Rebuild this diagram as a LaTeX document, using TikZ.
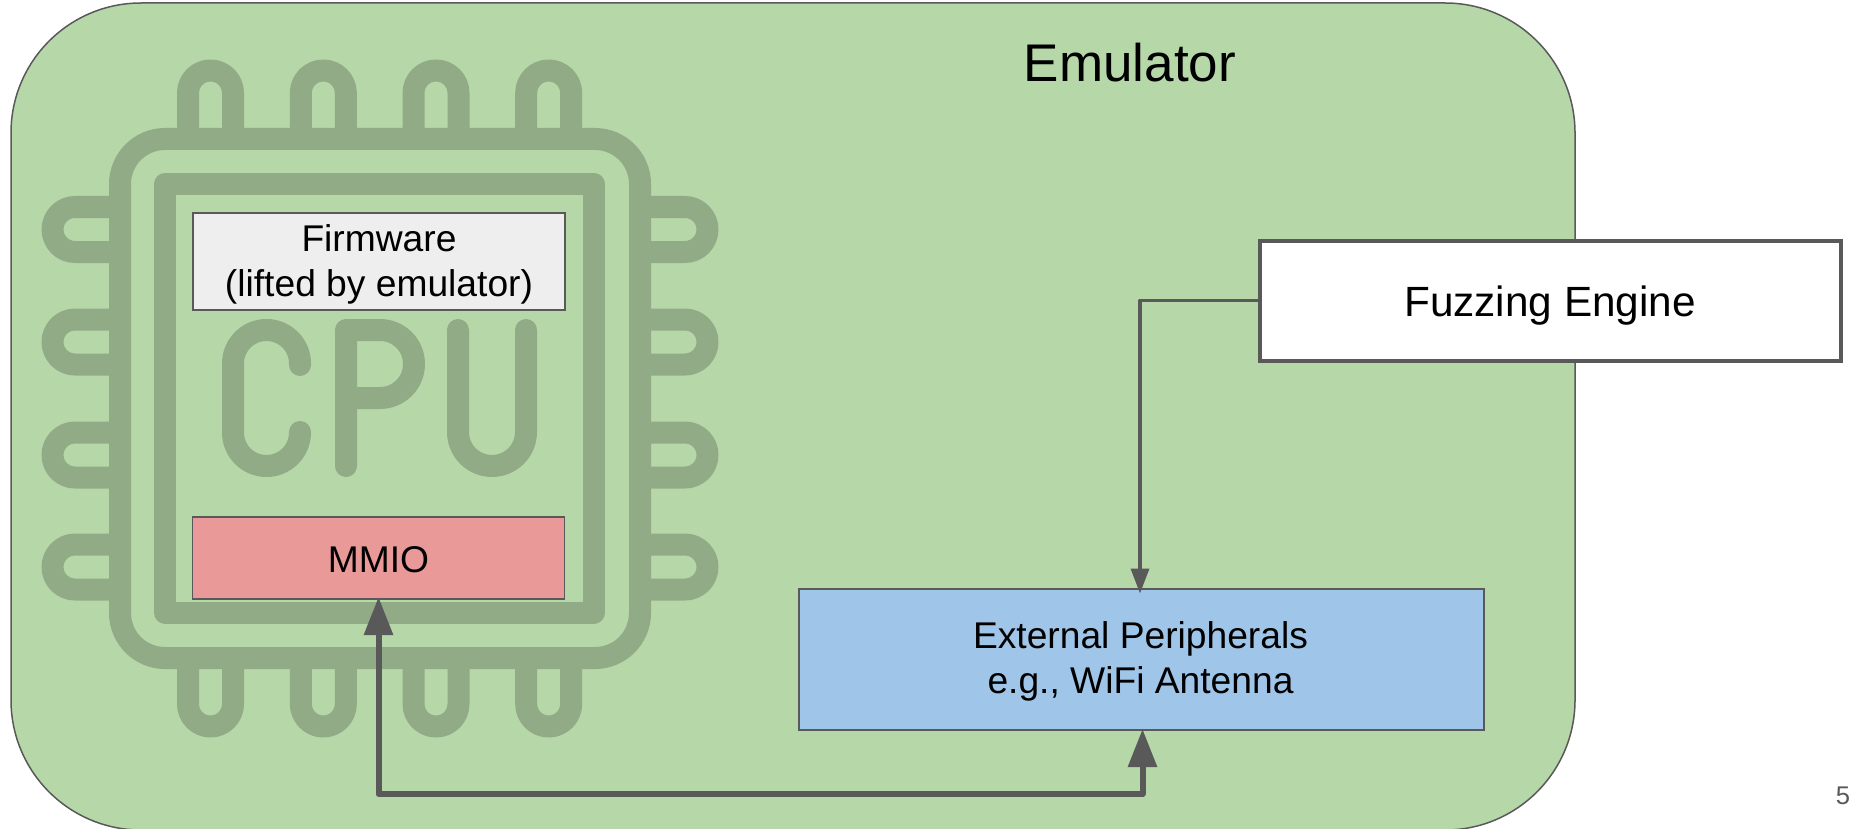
\documentclass[tikz,border=0pt]{standalone}
\usepackage{fontspec}
\setmainfont{Liberation Sans}
\usetikzlibrary{arrows.meta,calc}
\definecolor{linegray}{HTML}{595959}
\definecolor{emugreen}{HTML}{B6D7A8}
\definecolor{chipgreen}{HTML}{91AB86}
\definecolor{fwgray}{HTML}{EEEEEE}
\definecolor{mmiored}{HTML}{EA9999}
\definecolor{periblue}{HTML}{9FC5E8}
\tikzset{
  chipline/.style={draw=chipgreen,line width=22pt,line join=round,line cap=butt},
  chipround/.style={chipline,line cap=round},
  boxbase/.style={draw=linegray,line width=1.5pt,inner sep=0pt,outer sep=0pt,align=center,text=black},
  txtmid/.style={font=\fontsize{37.2}{44.4}\selectfont},
  thinarrow/.style={draw=linegray,line width=3.5pt,line join=round,-{Triangle[length=25pt,width=18pt]}},
  thickarrow/.style={draw=linegray,line width=6pt,line join=round,{Triangle[length=38pt,width=28pt]}-{Triangle[length=38pt,width=28pt]}}
}
\begin{document}
\begin{tikzpicture}[x=1pt,y=-1pt]
\useasboundingbox (0,0) rectangle (1854,829);
\node[draw=linegray,line width=1.5pt,fill=emugreen,rounded corners=130pt,minimum width=1564pt,minimum height=827pt,inner sep=0pt,outer sep=0pt] (emulator) at (793,416.5) {};
% chip package
\draw[chipline,rounded corners=45pt] (120,139) rectangle (640,658);
\draw[chipline] (165,184) rectangle (594,612.5);
% pins
\foreach \c in {210.5,323.3,436,548.7}{
  \draw[chipline] (\c-22.5,130) -- (\c-22.5,93) arc (180:360:22.5) -- (\c+22.5,130);
  \draw[chipline] (\c-22.5,667) -- (\c-22.5,704) arc (180:0:22.5) -- (\c+22.5,667);
}
\foreach \r in {229.5,342,455,567}{
  \draw[chipline] (111,\r-22.5) -- (75,\r-22.5) arc (270:90:22.5) -- (111,\r+22.5);
  \draw[chipline] (649,\r-22.5) -- (685,\r-22.5) arc (-90:90:22.5) -- (649,\r+22.5);
}
% CPU letters
\draw[chipround] (300,365) -- (300,363.5) arc (360:180:33.5) -- (233,432.5) arc (180:0:33.5) -- (300,432);
\draw[chipround] (346,466) -- (346,330) -- (380,330) arc (-90:90:34) -- (346,398);
\draw[chipround] (458,330) -- (458,432) arc (180:0:34) -- (526,330);
% boxes
\node[boxbase,fill=fwgray,minimum width=372pt,minimum height=97pt] (firmware) at (379,261.5) {};
\node[txtmid,align=center,inner sep=0pt,yshift=-3pt] (firmwaretext) at (firmware.center) {Firmware\\(lifted by emulator)};
\node[boxbase,fill=mmiored,minimum width=372pt,minimum height=82pt] (mmio) at (378.5,558) {};
\node[txtmid,inner sep=0pt,yshift=-2pt] (mmiotext) at (mmio.center) {MMIO};
\node[boxbase,fill=periblue,minimum width=685pt,minimum height=141pt] (ext) at (1141.5,659.5) {};
\node[txtmid,align=center,inner sep=0pt,yshift=-2pt,xshift=-1pt] (exttext) at (ext.center) {External Peripherals\\e.g., WiFi Antenna};
\node[boxbase,line width=4pt,fill=white,minimum width=581pt,minimum height=120pt] (fuzz) at (1550,300.5) {};
\node[font=\fontsize{42.3}{50}\selectfont,inner sep=0pt,yshift=-5pt] (fuzztext) at (fuzz.center) {Fuzzing Engine};
% labels
\node[anchor=base,font=\fontsize{53}{60}\selectfont,inner sep=0pt] (title) at (1130,82) {Emulator};
\node[anchor=base,font=\fontsize{25.6}{30}\selectfont,text=linegray,inner sep=0pt] (pagenum) at (1843,804) {5};
% connectors
\coordinate (bus) at (760,794);
\coordinate (thintop) at ([xshift=-1.5pt]ext.north);
\coordinate (thickend) at ([xshift=1pt]ext.south);
\draw[thinarrow,shorten >=-4.5pt] (fuzz.west) -| (thintop);
\draw[thickarrow,shorten <=-2pt,shorten >=-1pt] (mmio.south) -- (mmio.south |- bus) -- (thickend |- bus) -- (thickend);
\end{tikzpicture}
\end{document}
